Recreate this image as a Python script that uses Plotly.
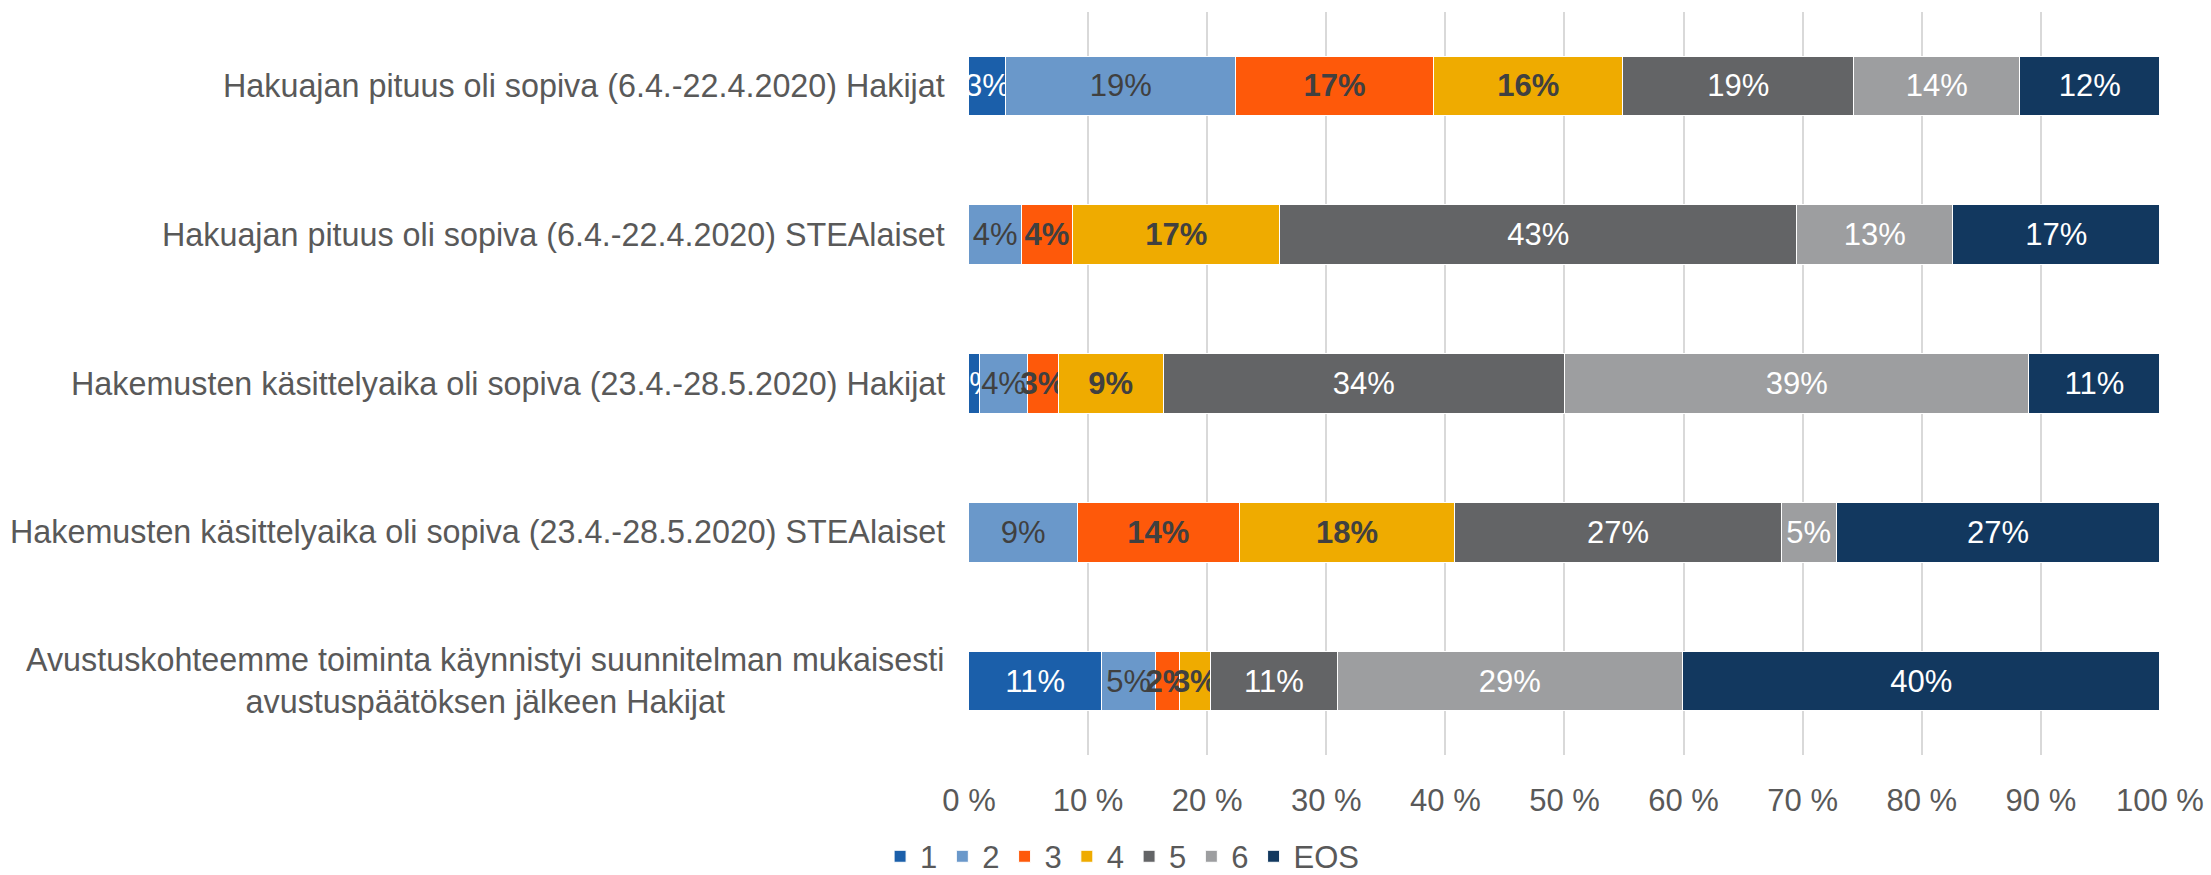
import plotly.graph_objects as go

categories = [
    "Hakuajan pituus oli sopiva (6.4.-22.4.2020) Hakijat",
    "Hakuajan pituus oli sopiva (6.4.-22.4.2020) STEAlaiset",
    "Hakemusten käsittelyaika oli sopiva (23.4.-28.5.2020) Hakijat",
    "Hakemusten käsittelyaika oli sopiva (23.4.-28.5.2020) STEAlaiset",
    "Avustuskohteemme toiminta käynnistyi suunnitelman mukaisesti<br>avustuspäätöksen jälkeen Hakijat",
]

# percentage shares per answer option, one value per category (top to bottom)
s1 = [3.1, 0.0, 0.9, 0.0, 11.1]
s2 = [19.3, 4.4, 4.0, 9.1, 4.6]
s3 = [16.6, 4.3, 2.6, 13.6, 2.0]
s4 = [15.9, 17.4, 8.8, 18.1, 2.6]
s5 = [19.4, 43.4, 33.7, 27.4, 10.6]
s6 = [13.9, 13.1, 39.0, 4.6, 29.0]
eos = [11.8, 17.4, 11.0, 27.2, 40.1]

series_names = ["1", "2", "3", "4", "5", "6", "EOS"]
series_values = [s1, s2, s3, s4, s5, s6, eos]

colors = ["#1b5faa", "#6a98ca", "#fe590a", "#efab00", "#636466", "#9d9ea0", "#12385f"]
label_colors = ["white", "#404040", "#404040", "#404040", "white", "white", "white"]
label_bold = [False, False, True, True, False, False, False]

FONT = "Liberation Sans, Arial, sans-serif"
GREY = "#595959"

fig = go.Figure()

for name, vals, col, tcol, bold in zip(series_names, series_values, colors,
                                        label_colors, label_bold):
    fig.add_trace(go.Bar(
        y=categories,
        x=vals,
        name=name,
        orientation="h",
        marker=dict(color=col, line=dict(color="white", width=1)),
        text=[f"<b>{v:.0f}%</b>" if bold else f"{v:.0f}%" for v in vals],
        textposition="inside",
        insidetextanchor="middle",
        textangle=0,
        textfont=dict(family=FONT, size=31, color=tcol),
        hoverinfo="x+name",
    ))

# category labels as annotations so the two-line label is centred
for cat in categories:
    fig.add_annotation(
        x=0, xref="x", y=cat, yref="y",
        text=cat, showarrow=False,
        xanchor="right", yanchor="middle", xshift=-22,
        align="center",
        font=dict(family=FONT, size=32.3, color=GREY),
    )

fig.update_layout(
    barmode="stack",
    bargap=0.6,
    width=2211,
    height=875,
    margin=dict(l=0, r=0, t=0, b=0, autoexpand=False),
    plot_bgcolor="white",
    paper_bgcolor="white",
    font=dict(family=FONT, size=31, color=GREY),
    uniformtext=dict(minsize=31, mode="show"),
    legend=dict(
        orientation="h",
        x=0.5075, xanchor="center",
        y=0.021, yanchor="middle",
        font=dict(family=FONT, size=31, color=GREY),
        itemwidth=30,
        traceorder="normal",
    ),
    xaxis=dict(
        domain=[0.43826, 0.97693],
        range=[0, 100],
        dtick=10,
        ticksuffix=" %",
        showgrid=True,
        gridcolor="#d9d9d9",
        gridwidth=1.5,
        zeroline=False,
        showline=False,
        ticks="",
        ticklabelstandoff=24,
        tickfont=dict(family=FONT, size=31, color=GREY),
    ),
    yaxis=dict(
        domain=[0.13669, 0.98674],
        categoryorder="array",
        categoryarray=categories,
        autorange="reversed",
        showticklabels=False,
        showgrid=False,
        zeroline=False,
        ticks="",
    ),
)

fig.write_html("out.html", config={"displayModeBar": False},
               post_script="document.body.style.margin='0';")
